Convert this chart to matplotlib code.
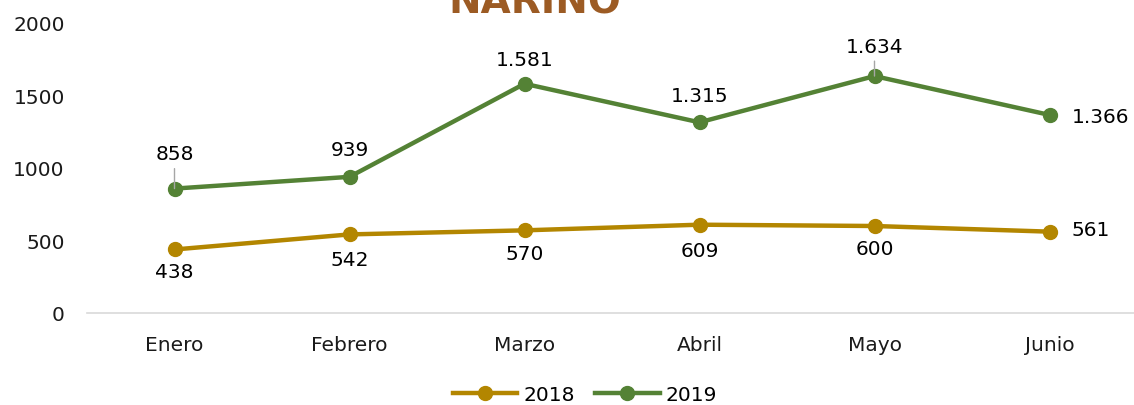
import matplotlib.pyplot as plt

plt.rcParams['font.family'] = ['DejaVu Sans']

# monthly totals, first half of the year
months = ["Enero", "Febrero", "Marzo", "Abril", "Mayo", "Junio"]
v2018 = [438, 542, 570, 609, 600, 561]
v2019 = [858, 939, 1581, 1315, 1634, 1366]

gold = "#B38600"
green = "#548235"
fs = 14.5


def fmt(v):
    # thousands with a dot, as in Spanish
    return "{:,}".format(v).replace(",", ".")


fig = plt.figure(figsize=(11.34, 4.06), dpi=100)
ax = fig.add_axes([87 / 1134, 92 / 406, 1050 / 1134, 290 / 406])

x = list(range(len(months)))
ax.plot(x, v2018, color=gold, lw=3.2, marker="o", ms=10, label="2018", zorder=3)
ax.plot(x, v2019, color=green, lw=3.2, marker="o", ms=10, label="2019", zorder=3)

ax.set_xlim(-0.5, 5.5)
ax.set_ylim(0, 2000)
ax.set_xticks(x)
ax.set_xticklabels(months)
ax.set_yticks([0, 500, 1000, 1500, 2000])
ax.tick_params(length=0, labelsize=fs, colors="#1a1a1a")
ax.tick_params(axis="x", pad=16)
ax.tick_params(axis="y", pad=16)
for s in ["top", "right", "left"]:
    ax.spines[s].set_visible(False)
ax.spines["bottom"].set_color("#D9D9D9")
ax.spines["bottom"].set_linewidth(1.2)
ax.patch.set_alpha(0)

# value labels: 2019 above, 2018 below, last point to the right
up = [35, 27, 24, 27, 30, 0]
down = [22, 25, 23, 26, 23, 0]
for i in x:
    if i == len(x) - 1:
        ax.annotate(fmt(v2019[i]), (i, v2019[i]), xytext=(22, -2),
                    textcoords="offset pixels", ha="left", va="center", fontsize=fs)
        ax.annotate(fmt(v2018[i]), (i, v2018[i]), xytext=(22, 2),
                    textcoords="offset pixels", ha="left", va="center", fontsize=fs)
        continue
    arrow = None
    if i in (0, 4):
        arrow = dict(arrowstyle="-", color="#A6A6A6", lw=1, shrinkA=2, shrinkB=0)
    ax.annotate(fmt(v2019[i]), (i, v2019[i]), xytext=(0, up[i]),
                textcoords="offset pixels", ha="center", va="center",
                fontsize=fs, arrowprops=arrow)
    ax.annotate(fmt(v2018[i]), (i, v2018[i]), xytext=(0, -down[i]),
                textcoords="offset pixels", ha="center", va="center", fontsize=fs)

fig.text(535 / 1134, 393 / 406, "NARIÑO", ha="center", va="baseline",
         fontsize=28, fontweight="bold", color="#9C5B24")

fig.legend(loc="center", bbox_to_anchor=(585 / 1134, 10 / 406), ncol=2,
           frameon=False, fontsize=fs, handlelength=3.2, columnspacing=1.0,
           handletextpad=0.3)

fig.savefig("out.png", dpi=100, facecolor="white")
